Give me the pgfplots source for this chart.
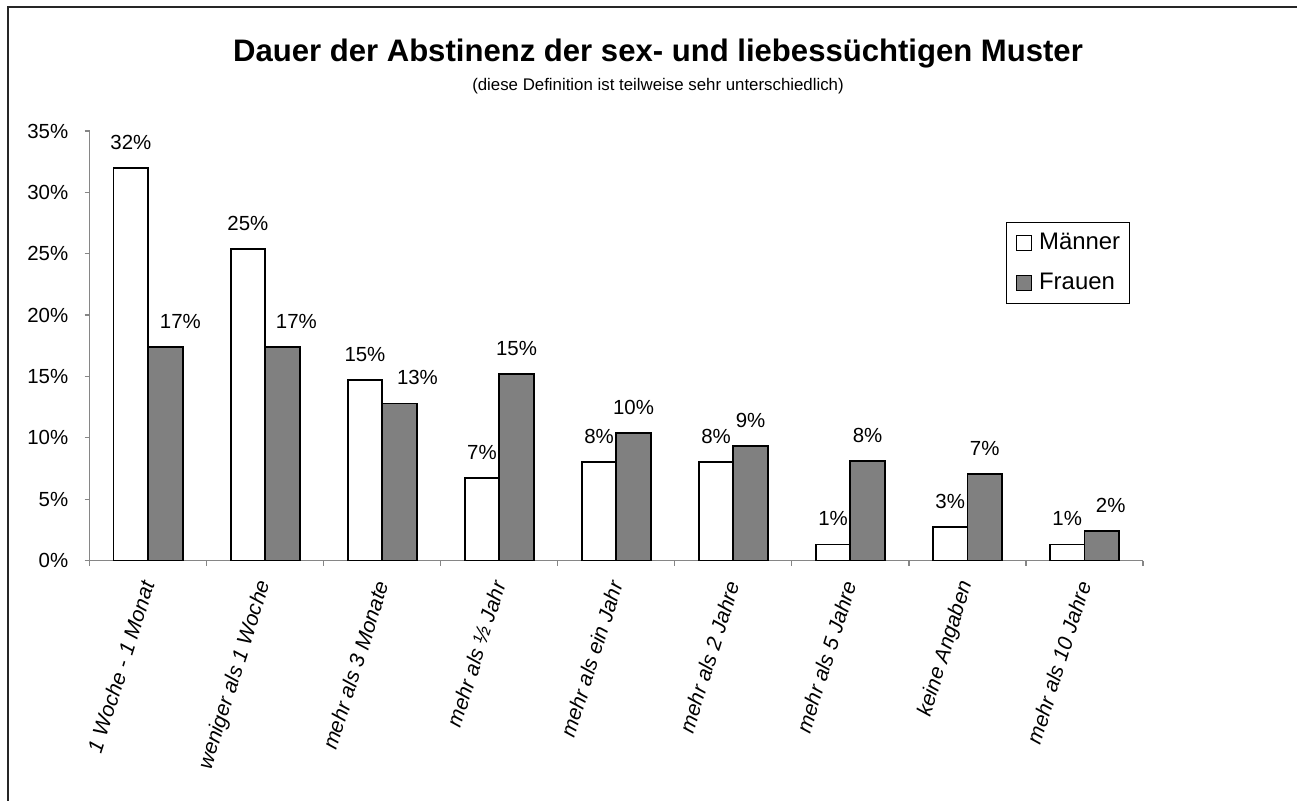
\documentclass[border=0pt]{standalone}
\usepackage{fontspec}
\setmainfont{Liberation Sans}
\usepackage{pgfplots}
\usepackage{pgfplotstable}
\pgfplotsset{compat=1.18}
\definecolor{frauengray}{HTML}{808080}
\definecolor{axisgray}{HTML}{868686}

% Anteile in Prozent; dxm/dxf = Lage der Beschriftung zur Gruppenmitte (bp)
\pgfplotstableread{
x m f dxm dxf
1 32.0 17.4 -8.63 16.13
2 25.4 17.4 -8.63 15.63
3 14.7 12.8 -8.63 17.63
4 6.7 15.2 -8.63 8.63
5 8.0 10.4 -8.63 8.63
6 8.0 9.3 -8.63 8.63
7 1.3 8.1 -8.63 8.63
8 2.7 7.06 -8.63 8.63
9 1.3 2.4 -8.63 13.13
}\abstinenz

\begin{document}
\begin{tikzpicture}
\path[use as bounding box] (0,0) rectangle (648.5bp,400.5bp);
\draw[line width=1bp, black!85] (3.75bp,-2bp) -- (3.75bp,396.75bp) -- (652bp,396.75bp);
\node[anchor=base, font=\bfseries\fontsize{15.6}{18}\selectfont] at (329bp,369.5bp)
  {Dauer der Abstinenz der sex- und liebessüchtigen Muster};
\node[anchor=base, font=\fontsize{8.45}{10}\selectfont] at (329bp,355bp)
  {(diese Definition ist teilweise sehr unterschiedlich)};
\begin{axis}[
  at={(44.8bp,120.25bp)}, anchor=south west,
  scale only axis, width=526.7bp, height=214.75bp,
  xmin=0.5, xmax=9.5, ymin=0, ymax=35,
  axis lines*=left,
  axis line style={axisgray, line width=0.6bp},
  tick style={axisgray, line width=0.6bp},
  tick align=outside, major tick length=2.5bp,
  /pgf/number format/assume math mode=true,
  xtick={0.5,1.5,...,9.5}, x tick label as interval,
  xticklabels={1 Woche - 1 Monat, weniger als 1 Woche, mehr als 3 Monate,
    mehr als ½ Jahr, mehr als ein Jahr, mehr als 2 Jahre, mehr als 5 Jahre,
    keine Angaben, mehr als 10 Jahre},
  xticklabel style={rotate=72.5, anchor=east, inner sep=0pt,
    font=\itshape\fontsize{10.6}{12}\selectfont},
  xticklabel shift=8bp,
  ytick={0,5,...,35},
  yticklabel={\pgfmathprintnumber{\tick}\%},
  yticklabel style={inner sep=0pt, font=\fontsize{10.25}{12}\selectfont},
  yticklabel shift=8bp,
  nodes near coords={\pgfmathprintnumber[fixed,precision=0]{\pgfplotspointmeta}\%},
  every node near coord/.append style={anchor=south, inner sep=0pt, yshift=8.8bp,
    xshift=\dx*1bp, font=\fontsize{10.25}{12}\selectfont, text=black},
  legend style={at={(rel axis cs:0.8697,0.788)}, anchor=north west,
    draw=black, line width=0.6bp, fill=white,
    inner xsep=4.65bp, inner ysep=4.5bp, row sep=8.5bp, column sep=3.65bp,
    font=\fontsize{12}{14}\selectfont,
    nodes={inner sep=0pt, text height=9bp, text depth=2.5bp}},
  legend cell align=left,
  legend image code/.code={\draw[#1, line width=0.6bp] (0bp,-3.75bp) rectangle (7.5bp,3.75bp);},
]
\addplot[ybar, bar width=0.295, bar shift=-0.1475, draw=black, fill=white, line width=0.9bp,
  visualization depends on={\thisrow{dxm} \as \dx}]
  table[x=x, y=m] {\abstinenz};
\addlegendentry{Männer}
\addplot[ybar, bar width=0.295, bar shift=0.1475, draw=black, fill=frauengray, line width=0.9bp,
  visualization depends on={\thisrow{dxf} \as \dx}]
  table[x=x, y=f] {\abstinenz};
\addlegendentry{Frauen}
\end{axis}
\end{tikzpicture}
\end{document}
